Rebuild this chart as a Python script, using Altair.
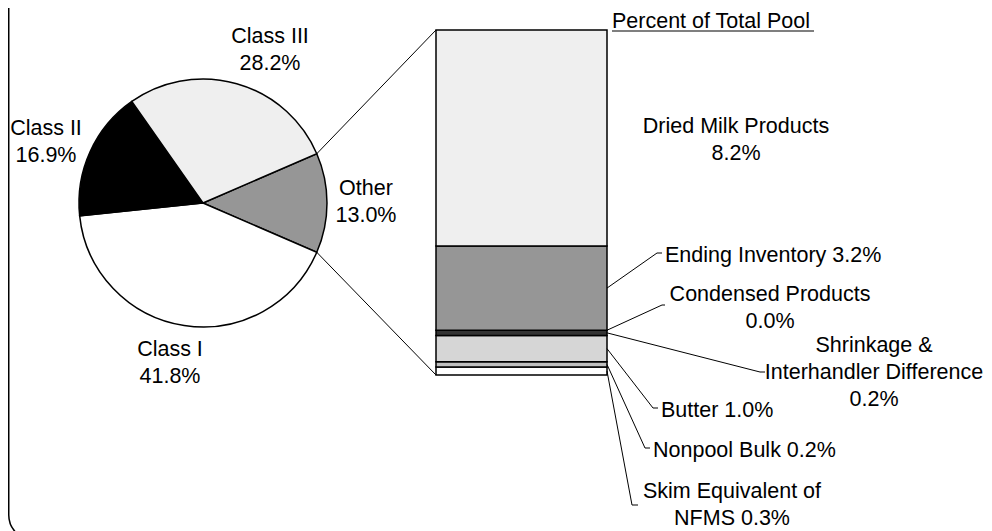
import math
import altair as alt
import pandas as pd

# ---------------- data ----------------
pie_labels = ["Other", "Class I", "Class II", "Class III"]
pie_values = [13.0, 41.8, 16.9, 28.2]

bar_labels = ["Skim Equivalent of NFMS", "Nonpool Bulk", "Butter",
              "Shrinkage & Interhandler Difference", "Condensed Products",
              "Ending Inventory", "Dried Milk Products"]
bar_values = [0.3, 0.2, 1.0, 0.2, 0.0, 3.2, 8.2]

title_text = "Percent of Total Pool"

# ---------------- styles ----------------
FONT = "Liberation Sans"
FS = 21.5
LH = 27
pie_fill = {"Other": "#969696", "Class I": "#ffffff", "Class II": "#000000", "Class III": "#efefef"}
bar_fill = {"Skim Equivalent of NFMS": "#ffffff", "Nonpool Bulk": "#c0c0c0", "Butter": "#d6d6d6",
            "Shrinkage & Interhandler Difference": "#333333", "Condensed Products": "#000000",
            "Ending Inventory": "#969696", "Dried Milk Products": "#efefef"}
display_name = {"Shrinkage & Interhandler Difference": "Shrinkage &\nInterhandler Difference",
                "Skim Equivalent of NFMS": "Skim Equivalent of\nNFMS"}
name_value_sep = {"Ending Inventory": " ", "Butter": " ", "Nonpool Bulk": " ",
                  "Skim Equivalent of NFMS": " "}

# ---------------- layout (page px; svg = page - 8) ----------------
W, H = 976, 523
OFF = 8
pie_cx, pie_cy, pie_r = 203 - OFF, 203 - OFF, 124
bar_x0, bar_x1 = 436 - OFF, 607 - OFF
bar_top, bar_bot = 30 - OFF, 375 - OFF

# label anchors (page coordinates of first baseline), alignment
pie_label_pos = {"Class III": (270, 43), "Class II": (46, 135), "Other": (366, 195), "Class I": (170, 356)}
bar_label_pos = {"Dried Milk Products": (736, 133, "center"),
                 "Ending Inventory": (665, 262, "left"),
                 "Condensed Products": (770, 301, "center"),
                 "Shrinkage & Interhandler Difference": (874, 352, "center"),
                 "Butter": (661, 417, "left"),
                 "Nonpool Bulk": (653, 457, "left"),
                 "Skim Equivalent of NFMS": (732, 498, "center")}
# leader elbows and tick ends (page coordinates)
leader_pos = {"Ending Inventory": (657, 253, 662),
              "Condensed Products": (662, 305, 665),
              "Shrinkage & Interhandler Difference": (760, 372, 765),
              "Butter": (653, 408, 658),
              "Nonpool Bulk": (645, 448, 650),
              "Skim Equivalent of NFMS": (632, 505, 638)}
title_pos = (612, 28)
underline = (612, 814, 31)

# ---------------- derived tables ----------------
pie_total = sum(pie_values)
a0 = math.pi / 2 - math.pi * pie_values[0] / pie_total  # "Other" slice centred toward the bar
rows, cum = [], 0.0
for lab, v in zip(pie_labels, pie_values):
    rows.append({"label": lab, "start": cum, "end": cum + v, "fill": pie_fill[lab]})
    cum += v
pie_df = pd.DataFrame(rows)

bar_total = sum(bar_values)
rows, cum = [], 0.0
for lab, v in zip(bar_labels, bar_values):
    rows.append({"label": lab, "y0": cum, "y1": cum + v, "mid": cum + v / 2, "fill": bar_fill[lab]})
    cum += v
bar_df = pd.DataFrame(rows)


def bar_px(v):
    return bar_bot - v / bar_total * (bar_bot - bar_top)


def pie_pt(c):
    a = a0 + 2 * math.pi * c / pie_total
    return pie_cx + pie_r * math.sin(a), pie_cy - pie_r * math.cos(a)


p_top = pie_pt(0.0)
p_bot = pie_pt(pie_values[0])
conn_df = pd.DataFrame([
    {"x": p_top[0], "y": p_top[1], "x2": bar_x0, "y2": bar_px(bar_total)},
    {"x": p_bot[0], "y": p_bot[1], "x2": bar_x0, "y2": bar_px(0.0)},
])

lrows = []
for _, r in bar_df.iterrows():
    if r["label"] not in leader_pos:
        continue
    ex, ey, tx = leader_pos[r["label"]]
    lrows += [
        {"id": r["label"], "i": 0, "x": bar_x1, "y": bar_px(r["mid"])},
        {"id": r["label"], "i": 1, "x": ex - OFF, "y": ey - OFF},
        {"id": r["label"], "i": 2, "x": tx - OFF, "y": ey - OFF},
    ]
leader_df = pd.DataFrame(lrows)

trows = []
for lab, v in zip(pie_labels, pie_values):
    x, y = pie_label_pos[lab]
    trows.append({"text": f"{lab}\n{v:.1f}%", "x": x - OFF, "y": y - OFF, "align": "center"})
for lab, v in zip(bar_labels, bar_values):
    x, y, al = bar_label_pos[lab]
    name = display_name.get(lab, lab)
    sep = name_value_sep.get(lab, "\n")
    trows.append({"text": f"{name}{sep}{v:.1f}%", "x": x - OFF, "y": y - OFF, "align": al})
trows.append({"text": title_text, "x": title_pos[0] - OFF, "y": title_pos[1] - OFF, "align": "left"})
text_df = pd.DataFrame(trows)

ul_df = pd.DataFrame([{"x": underline[0] - OFF, "x2": underline[1] - OFF,
                       "y": underline[2] - OFF, "y2": underline[2] - OFF}])

# ---------------- marks ----------------
frame = alt.Chart(pd.DataFrame([{"k": 0}])).mark_rect(
    fill=None, stroke="black", strokeWidth=1.5, cornerRadius=25
).encode(x=alt.value(0.75), x2=alt.value(1400), y=alt.value(-60), y2=alt.value(532))

arcs = alt.Chart(pie_df).mark_arc(outerRadius=pie_r, stroke="black", strokeWidth=1.5).encode(
    theta=alt.Theta("start:Q", stack=None,
                    scale=alt.Scale(domain=[0, pie_total], range=[a0, a0 + 2 * math.pi])),
    theta2="end:Q",
    fill=alt.Fill("fill:N", scale=None),
    x=alt.value(pie_cx), y=alt.value(pie_cy),
)

bars = alt.Chart(bar_df).mark_rect(stroke="black", strokeWidth=1.5).encode(
    x=alt.value(bar_x0), x2=alt.value(bar_x1),
    y=alt.Y("y0:Q", scale=alt.Scale(domain=[0, bar_total], range=[bar_bot, bar_top]), axis=None),
    y2="y1:Q",
    fill=alt.Fill("fill:N", scale=None),
)

connectors = alt.Chart(conn_df).mark_rule(color="black", strokeWidth=1).encode(
    x=alt.X("x:Q", scale=None), y=alt.Y("y:Q", scale=None), x2="x2:Q", y2="y2:Q")

leaders = alt.Chart(leader_df).mark_line(color="black", strokeWidth=1).encode(
    x=alt.X("x:Q", scale=None), y=alt.Y("y:Q", scale=None),
    detail="id:N", order="i:Q")

ul = alt.Chart(ul_df).mark_rule(color="black", strokeWidth=1.2).encode(
    x=alt.X("x:Q", scale=None), y=alt.Y("y:Q", scale=None), x2="x2:Q", y2="y2:Q")

text_center = alt.Chart(text_df[text_df["align"] == "center"]).mark_text(
    align="center", baseline="alphabetic", font=FONT, fontSize=FS, lineHeight=LH,
    lineBreak="\n", color="black").encode(
    x=alt.X("x:Q", scale=None), y=alt.Y("y:Q", scale=None), text="text:N")

text_left = alt.Chart(text_df[text_df["align"] == "left"]).mark_text(
    align="left", baseline="alphabetic", font=FONT, fontSize=FS, lineHeight=LH,
    lineBreak="\n", color="black").encode(
    x=alt.X("x:Q", scale=None), y=alt.Y("y:Q", scale=None), text="text:N")

chart = alt.layer(frame, arcs, bars, connectors, leaders, ul, text_center, text_left).resolve_scale(
    x="independent", y="independent"
).properties(
    width=W, height=H, padding=0, autosize=alt.AutoSizeParams(type="none"),
    background="white"
).configure_view(stroke=None)

chart.save("out.html", embed_options={"renderer": "svg", "actions": False})
